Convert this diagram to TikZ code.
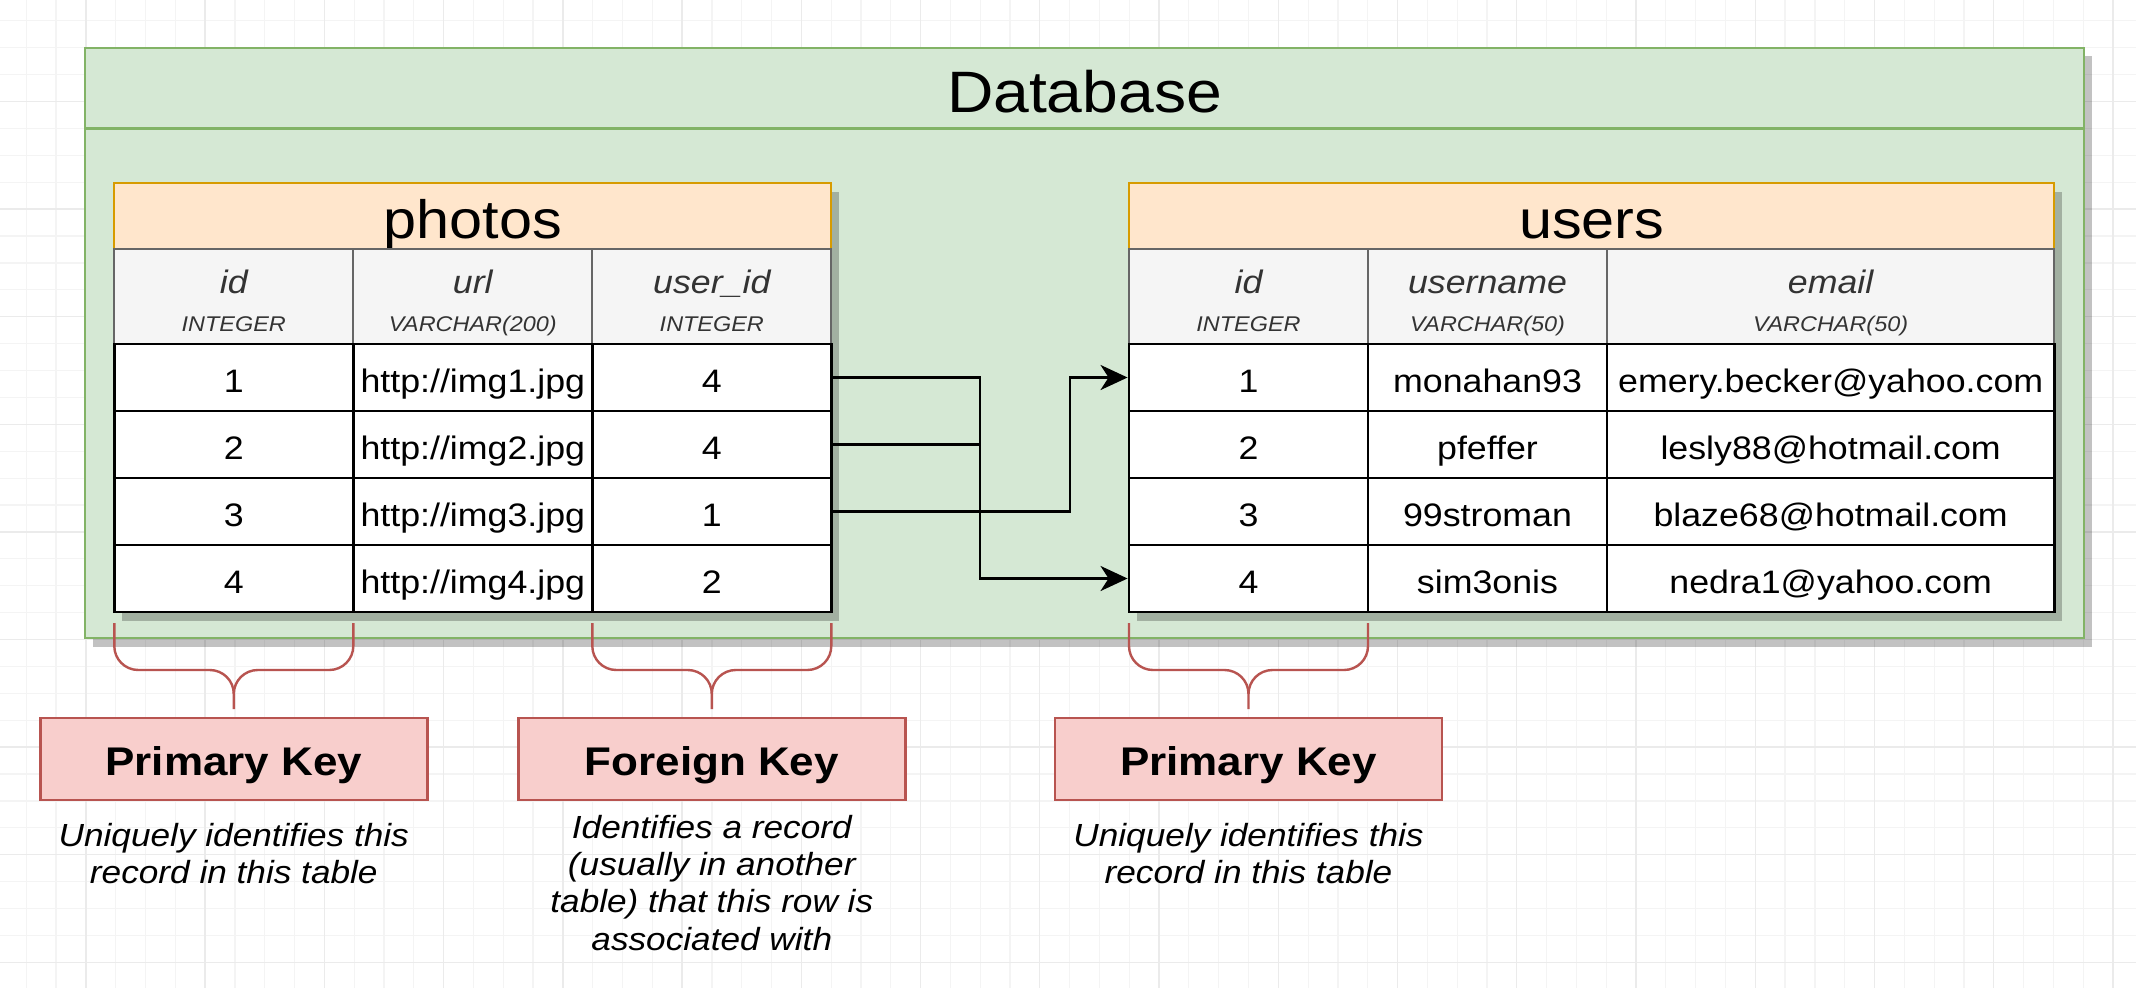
\documentclass[tikz,border=0pt]{standalone}
\usepackage{fontspec}
\setmainfont[FakeStretch=1.1]{Liberation Sans}
\usetikzlibrary{arrows.meta}
\definecolor{dbfill}{HTML}{D5E8D4}
\definecolor{dbline}{HTML}{82B366}
\definecolor{tfill}{HTML}{FFE6CC}
\definecolor{tline}{HTML}{D79B00}
\definecolor{hfill}{HTML}{F5F5F5}
\definecolor{hline}{HTML}{666666}
\definecolor{kfill}{HTML}{F8CECC}
\definecolor{kline}{HTML}{B85450}
\definecolor{txtgray}{HTML}{333333}
\definecolor{gminor}{HTML}{F4F4F4}
\definecolor{gmajor}{HTML}{EBEBEB}
\newcommand\fDb{\fontsize{58.4}{70}\selectfont}
\newcommand\fTitle{\fontsize{54}{65}\selectfont}
\newcommand\fName{\fontsize{32.5}{39}\selectfont\itshape}
\newcommand\fType{\fontsize{21.3}{26}\selectfont\itshape}
\newcommand\fRow{\fontsize{32.5}{39}\selectfont}
\newcommand\fKey{\fontsize{40}{48}\selectfont\bfseries}
\newcommand\fDesc{\fontsize{32}{37}\selectfont\itshape}
\begin{document}
\begin{tikzpicture}[x=1pt,y=-1pt,
  dbbox/.style={draw=dbline, fill=dbfill, line width=2.6pt, inner sep=0pt, minimum width=1999pt},
  shadowbox/.style={fill=black, opacity=0.24},
  ttl/.style={draw=tline, fill=tfill, line width=2.2pt, inner sep=0pt, minimum height=66.6pt, font=\fTitle, text height=52.9pt, text depth=7.4pt},
  hdr/.style={draw=hline, fill=hfill, line width=2pt, inner sep=0pt, minimum height=94.7pt},
  hname/.style={anchor=base, font=\fName, text=txtgray, inner sep=0pt},
  htype/.style={anchor=base, font=\fType, text=txtgray, inner sep=0pt},
  cell/.style={draw=black, fill=white, line width=2.9pt, inner sep=0pt, minimum height=67pt, font=\fRow, text height=33.4pt, text depth=2.9pt},
  nw/.style={minimum width=239pt},
  ww/.style={minimum width=447.3pt},
  conn/.style={draw=black, line width=2.8pt, -{Stealth[length=27pt,width=25pt,inset=8pt]}},
  link/.style={draw=black, line width=2.8pt},
  brace/.style={draw=kline, line width=2.4pt},
  keybox/.style={draw=kline, fill=kfill, line width=2.4pt, inner sep=0pt, minimum width=387pt, minimum height=82pt, font=\fKey, text height=39.2pt, text depth=5.5pt},
  desc/.style={anchor=base, font=\fDesc, inner sep=0pt}
]
\useasboundingbox (0,0) rectangle (2136,988);
\fill[white] (0,0) rectangle (2136,988);
% background grid
\foreach \k in {-2,...,69} \draw[gminor, line width=1.2pt] ({85.9+\k*29.81},0) -- ({85.9+\k*29.81},988);
\foreach \k in {-3,...,33} \draw[gminor, line width=1.2pt] (0,{101.5+\k*26.9}) -- (2136,{101.5+\k*26.9});
\foreach \k in {0,4,...,68} \draw[gmajor, line width=1.3pt] ({85.9+\k*29.81},0) -- ({85.9+\k*29.81},988);
\foreach \k in {0,4,...,32} \draw[gmajor, line width=1.3pt] (0,{101.5+\k*26.9}) -- (2136,{101.5+\k*26.9});

% database container
\fill[shadowbox] (93,56) rectangle (2092,647);
\node[dbbox, minimum height=80.7pt, font=\fDb, text height=56.9pt, text depth=8.4pt] (dbh) at (1084.5,88.35) {Database};
\node[dbbox, minimum height=509.3pt] (dbb) at (1084.5,383.35) {};

% table shadows
\fill[shadowbox] (122.3,191.7) rectangle (839.3,621);
\fill[shadowbox] (1137,191.7) rectangle (2062.3,621);

% photos table
\node[ttl, minimum width=717pt] (pt) at (472.8,216) {photos};
\node[hdr, nw] (ph1) at (233.8,296.65) {};
\node[hdr, nw] (ph2) at (472.8,296.65) {};
\node[hdr, nw] (ph3) at (711.8,296.65) {};
\node[hname] (ph1n) at (233.8,293.5) {id};
\node[htype] (ph1t) at (233.8,331) {INTEGER};
\node[hname] (ph2n) at (472.8,293.5) {url};
\node[htype] (ph2t) at (472.8,331) {VARCHAR(200)};
\node[hname] (ph3n) at (711.8,293.5) {user\_id};
\node[htype] (ph3t) at (711.8,331) {INTEGER};
\node[cell, nw] (p11) at (233.8,377.5) {1};
\node[cell, nw] (p12) at (472.8,377.5) {http://img1.jpg};
\node[cell, nw] (p13) at (711.8,377.5) {4};
\node[cell, nw] (p21) at (233.8,444.5) {2};
\node[cell, nw] (p22) at (472.8,444.5) {http://img2.jpg};
\node[cell, nw] (p23) at (711.8,444.5) {4};
\node[cell, nw] (p31) at (233.8,511.5) {3};
\node[cell, nw] (p32) at (472.8,511.5) {http://img3.jpg};
\node[cell, nw] (p33) at (711.8,511.5) {1};
\node[cell, nw] (p41) at (233.8,578.5) {4};
\node[cell, nw] (p42) at (472.8,578.5) {http://img4.jpg};
\node[cell, nw] (p43) at (711.8,578.5) {2};

% users table
\node[ttl, minimum width=925.3pt] (ut) at (1591.65,216) {users};
\node[hdr, nw] (uh1) at (1248.5,296.65) {};
\node[hdr, nw] (uh2) at (1487.5,296.65) {};
\node[hdr, ww] (uh3) at (1830.65,296.65) {};
\node[hname] (uh1n) at (1248.5,293.5) {id};
\node[htype] (uh1t) at (1248.5,331) {INTEGER};
\node[hname] (uh2n) at (1487.5,293.5) {username};
\node[htype] (uh2t) at (1487.5,331) {VARCHAR(50)};
\node[hname] (uh3n) at (1830.65,293.5) {email};
\node[htype] (uh3t) at (1830.65,331) {VARCHAR(50)};
\node[cell, nw] (u11) at (1248.5,377.5) {1};
\node[cell, nw] (u12) at (1487.5,377.5) {monahan93};
\node[cell, ww] (u13) at (1830.65,377.5) {emery.becker@yahoo.com};
\node[cell, nw] (u21) at (1248.5,444.5) {2};
\node[cell, nw] (u22) at (1487.5,444.5) {pfeffer};
\node[cell, ww] (u23) at (1830.65,444.5) {lesly88@hotmail.com};
\node[cell, nw] (u31) at (1248.5,511.5) {3};
\node[cell, nw] (u32) at (1487.5,511.5) {99stroman};
\node[cell, ww] (u33) at (1830.65,511.5) {blaze68@hotmail.com};
\node[cell, nw] (u41) at (1248.5,578.5) {4};
\node[cell, nw] (u42) at (1487.5,578.5) {sim3onis};
\node[cell, ww] (u43) at (1830.65,578.5) {nedra1@yahoo.com};

% connectors
\coordinate (jA) at (980,0);
\coordinate (jB) at (1070,0);
\draw[conn] (p13.east) -- (p13.east -| jA) |- (u41.west);
\draw[link] (p23.east) -- (p23.east -| jA);
\draw[conn] (p33.east) -- (p33.east -| jB) |- (u11.west);

% braces
\draw[brace] (114.3,623) -- (114.3,646) to[out=-90,in=180] (138.3,670) -- (209.8,670) to[out=0,in=90] (233.8,694) -- (233.8,709);
\draw[brace] (353.3,623) -- (353.3,646) to[out=-90,in=0] (329.3,670) -- (257.8,670) to[out=180,in=90] (233.8,694);
\draw[brace] (592.3,623) -- (592.3,646) to[out=-90,in=180] (616.3,670) -- (687.8,670) to[out=0,in=90] (711.8,694) -- (711.8,709);
\draw[brace] (831.3,623) -- (831.3,646) to[out=-90,in=0] (807.3,670) -- (735.8,670) to[out=180,in=90] (711.8,694);
\draw[brace] (1129,623) -- (1129,646) to[out=-90,in=180] (1153,670) -- (1224.5,670) to[out=0,in=90] (1248.5,694) -- (1248.5,709);
\draw[brace] (1368,623) -- (1368,646) to[out=-90,in=0] (1344,670) -- (1272.5,670) to[out=180,in=90] (1248.5,694);

% key boxes
\node[keybox] (kp1) at (233.8,759) {Primary Key};
\node[keybox] (kf) at (711.8,759) {Foreign Key};
\node[keybox] (kp2) at (1248.5,759) {Primary Key};

% descriptions
\node[desc] (d1a) at (233.8,846) {Uniquely identifies this};
\node[desc] (d1b) at (233.8,883) {record in this table};
\node[desc] (d2a) at (711.8,838.5) {Identifies a record};
\node[desc] (d2b) at (711.8,875.7) {(usually in another};
\node[desc] (d2c) at (711.8,912.9) {table) that this row is};
\node[desc] (d2d) at (711.8,950.1) {associated with};
\node[desc] (d3a) at (1248.5,846) {Uniquely identifies this};
\node[desc] (d3b) at (1248.5,883) {record in this table};
\end{tikzpicture}
\end{document}
